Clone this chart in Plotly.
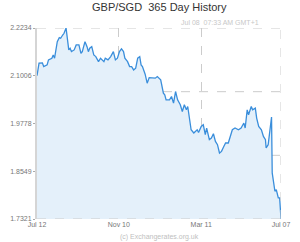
import plotly.graph_objects as go

dates = [
    "2015-07-12", "2015-07-15", "2015-07-20", "2015-07-22", "2015-07-27", "2015-07-29",
    "2015-08-03", "2015-08-05", "2015-08-07", "2015-08-11", "2015-08-14", "2015-08-16",
    "2015-08-19", "2015-08-21", "2015-08-24", "2015-08-26", "2015-08-28", "2015-08-30",
    "2015-09-01", "2015-09-05", "2015-09-08", "2015-09-12", "2015-09-15", "2015-09-17",
    "2015-09-21", "2015-09-24", "2015-09-26", "2015-09-28", "2015-10-01", "2015-10-04",
    "2015-10-07", "2015-10-11", "2015-10-14", "2015-10-19", "2015-10-21", "2015-10-25",
    "2015-10-29", "2015-11-02", "2015-11-05", "2015-11-08", "2015-11-11", "2015-11-14",
    "2015-11-17", "2015-11-19", "2015-11-23", "2015-11-26", "2015-11-29", "2015-12-02",
    "2015-12-05", "2015-12-08", "2015-12-11", "2015-12-13", "2015-12-15", "2015-12-19",
    "2015-12-22", "2015-12-25", "2015-12-30", "2016-01-03", "2016-01-06", "2016-01-09",
    "2016-01-11", "2016-01-15", "2016-01-17", "2016-01-19", "2016-01-24", "2016-01-27",
    "2016-01-30", "2016-02-02", "2016-02-05", "2016-02-09", "2016-02-12", "2016-02-15",
    "2016-02-18", "2016-02-20", "2016-02-22", "2016-02-25", "2016-02-29", "2016-03-05",
    "2016-03-07", "2016-03-11", "2016-03-14", "2016-03-17", "2016-03-19", "2016-03-23",
    "2016-03-26", "2016-03-29", "2016-04-01", "2016-04-04", "2016-04-07", "2016-04-10",
    "2016-04-13", "2016-04-16", "2016-04-20", "2016-04-23", "2016-04-26", "2016-04-30",
    "2016-05-05", "2016-05-09", "2016-05-13", "2016-05-15", "2016-05-18", "2016-05-20",
    "2016-05-24", "2016-05-26", "2016-05-30", "2016-06-01", "2016-06-04", "2016-06-08",
    "2016-06-11", "2016-06-14", "2016-06-15", "2016-06-18", "2016-06-21", "2016-06-23",
    "2016-06-24", "2016-06-28", "2016-06-30", "2016-07-03", "2016-07-05", "2016-07-07",
]

rates = [
    2.1006, 2.1328, 2.1336, 2.1241, 2.1285, 2.1413,
    2.1457, 2.1541, 2.1457, 2.1883, 2.1985, 2.1970,
    2.2054, 2.2098, 2.2234, 2.1970, 2.1670, 2.1713,
    2.1626, 2.1670, 2.1798, 2.1798, 2.1585, 2.1626,
    2.1883, 2.1754, 2.1626, 2.1713, 2.1754, 2.1541,
    2.1498, 2.1369, 2.1457, 2.1369, 2.1457, 2.1413,
    2.1498, 2.1626, 2.1413, 2.1457, 2.1626, 2.1695,
    2.1626, 2.1457, 2.1369, 2.1241, 2.1241, 2.1156,
    2.1200, 2.1457, 2.1498, 2.1285, 2.1241, 2.1046,
    2.0815, 2.0959, 2.0959, 2.0944, 2.0985, 2.0926,
    2.0900, 2.0559, 2.0515, 2.0387, 2.0387, 2.0472,
    2.0302, 2.0600, 2.0387, 2.0259, 2.0087, 2.0259,
    2.0130, 2.0215, 1.9958, 1.9617, 1.9533, 1.9617,
    1.9548, 1.9702, 1.9746, 1.9489, 1.9661, 1.9361,
    1.9404, 1.9515, 1.9317, 1.9232, 1.9019, 1.9060,
    1.9173, 1.9276, 1.9276, 1.9445, 1.9617, 1.9661,
    1.9617, 1.9661, 1.9789, 1.9661, 2.0130, 2.0002,
    2.0215, 2.0130, 2.0174, 1.9917, 1.9702, 1.9617,
    1.9445, 1.9361, 1.9148, 1.9232, 1.9702, 1.9943,
    1.8506, 1.8034, 1.8078, 1.7865, 1.7865, 1.7321,
]

y_ticks = [1.7321, 1.8549, 1.9778, 2.1006, 2.2234]
y_tick_labels = ["1.7321", "1.8549", "1.9778", "2.1006", "2.2234"]
x_ticks = ["2015-07-12", "2015-11-10", "2016-03-11", "2016-07-07"]
x_tick_labels = ["Jul 12", "Nov 10", "Mar 11", "Jul 07"]
grid_levels = [2.2234, 2.0596, 1.8959]

title_text = "GBP/SGD\u00a0 365 Day History"
stamp_text = "Jul 08\u00a0 07:33 AM GMT+1"
credit_text = "(c) Exchangerates.org.uk"

FONT = "Liberation Sans, Arial, sans-serif"
GRID = "#cccccc"

fig = go.Figure()
fig.add_trace(go.Scatter(
    x=dates, y=rates, mode="lines",
    line=dict(color="#3a8edb", width=1.3),
    fill="tozeroy", fillcolor="#e4f0fa",
    hoverinfo="skip",
))

shapes = []
for lv in grid_levels:
    shapes.append(dict(type="line", xref="paper", yref="y", x0=0, x1=1, y0=lv, y1=lv,
                       line=dict(color=GRID, width=1, dash="dash"), layer="below"))
shapes.append(dict(type="line", xref="x", yref="paper", x0=x_ticks[-1], x1=x_ticks[-1], y0=0, y1=1,
                   line=dict(color=GRID, width=1, dash="dash"), layer="above"))
shapes.append(dict(type="line", xref="paper", yref="y", x0=0, x1=1, y0=y_ticks[0], y1=y_ticks[0],
                   line=dict(color=GRID, width=1, dash="dash"), layer="above"))

fig.update_layout(
    width=300, height=242,
    margin=dict(l=24, r=10, t=28, b=23),
    paper_bgcolor="white", plot_bgcolor="white",
    showlegend=False,
    shapes=shapes,
    font=dict(family=FONT, size=7, color="#777777"),
    hovermode=False,
)

fig.add_annotation(text=title_text, xref="paper", yref="paper", x=0.5, y=1,
                   xanchor="center", yanchor="middle", showarrow=False,
                   yshift=21,
                   font=dict(family=FONT, size=11, color="#333333"))
fig.add_annotation(text=stamp_text, xref="paper", yref="paper", x=1, y=1,
                   xanchor="right", yanchor="middle", showarrow=False,
                   xshift=-20, yshift=6,
                   font=dict(family=FONT, size=7, color="#c8c8c8"))
fig.add_annotation(text=credit_text, xref="paper", yref="paper", x=0.5, y=0,
                   xanchor="center", yanchor="middle", showarrow=False,
                   yshift=-18,
                   font=dict(family=FONT, size=7, color="#c0c0c0"))

fig.update_xaxes(
    type="date", range=[x_ticks[0], x_ticks[-1]],
    tickmode="array", tickvals=x_ticks, ticktext=x_tick_labels,
    showgrid=True, gridcolor=GRID, griddash="dash", gridwidth=1,
    showline=False, zeroline=False,
    ticks="", tickfont=dict(size=7, color="#777777"),
    fixedrange=True,
)
fig.update_yaxes(
    range=[y_ticks[0], y_ticks[-1]],
    tickmode="array", tickvals=y_ticks, ticktext=y_tick_labels,
    showgrid=False, zeroline=False,
    showline=True, linecolor="#d5d5d5", linewidth=2,
    ticks="outside", ticklen=2, tickcolor="#aaaaaa",
    tickfont=dict(size=7, color="#777777"),
    fixedrange=True,
)

fig.write_html("out.html", config={"displayModeBar": False})
